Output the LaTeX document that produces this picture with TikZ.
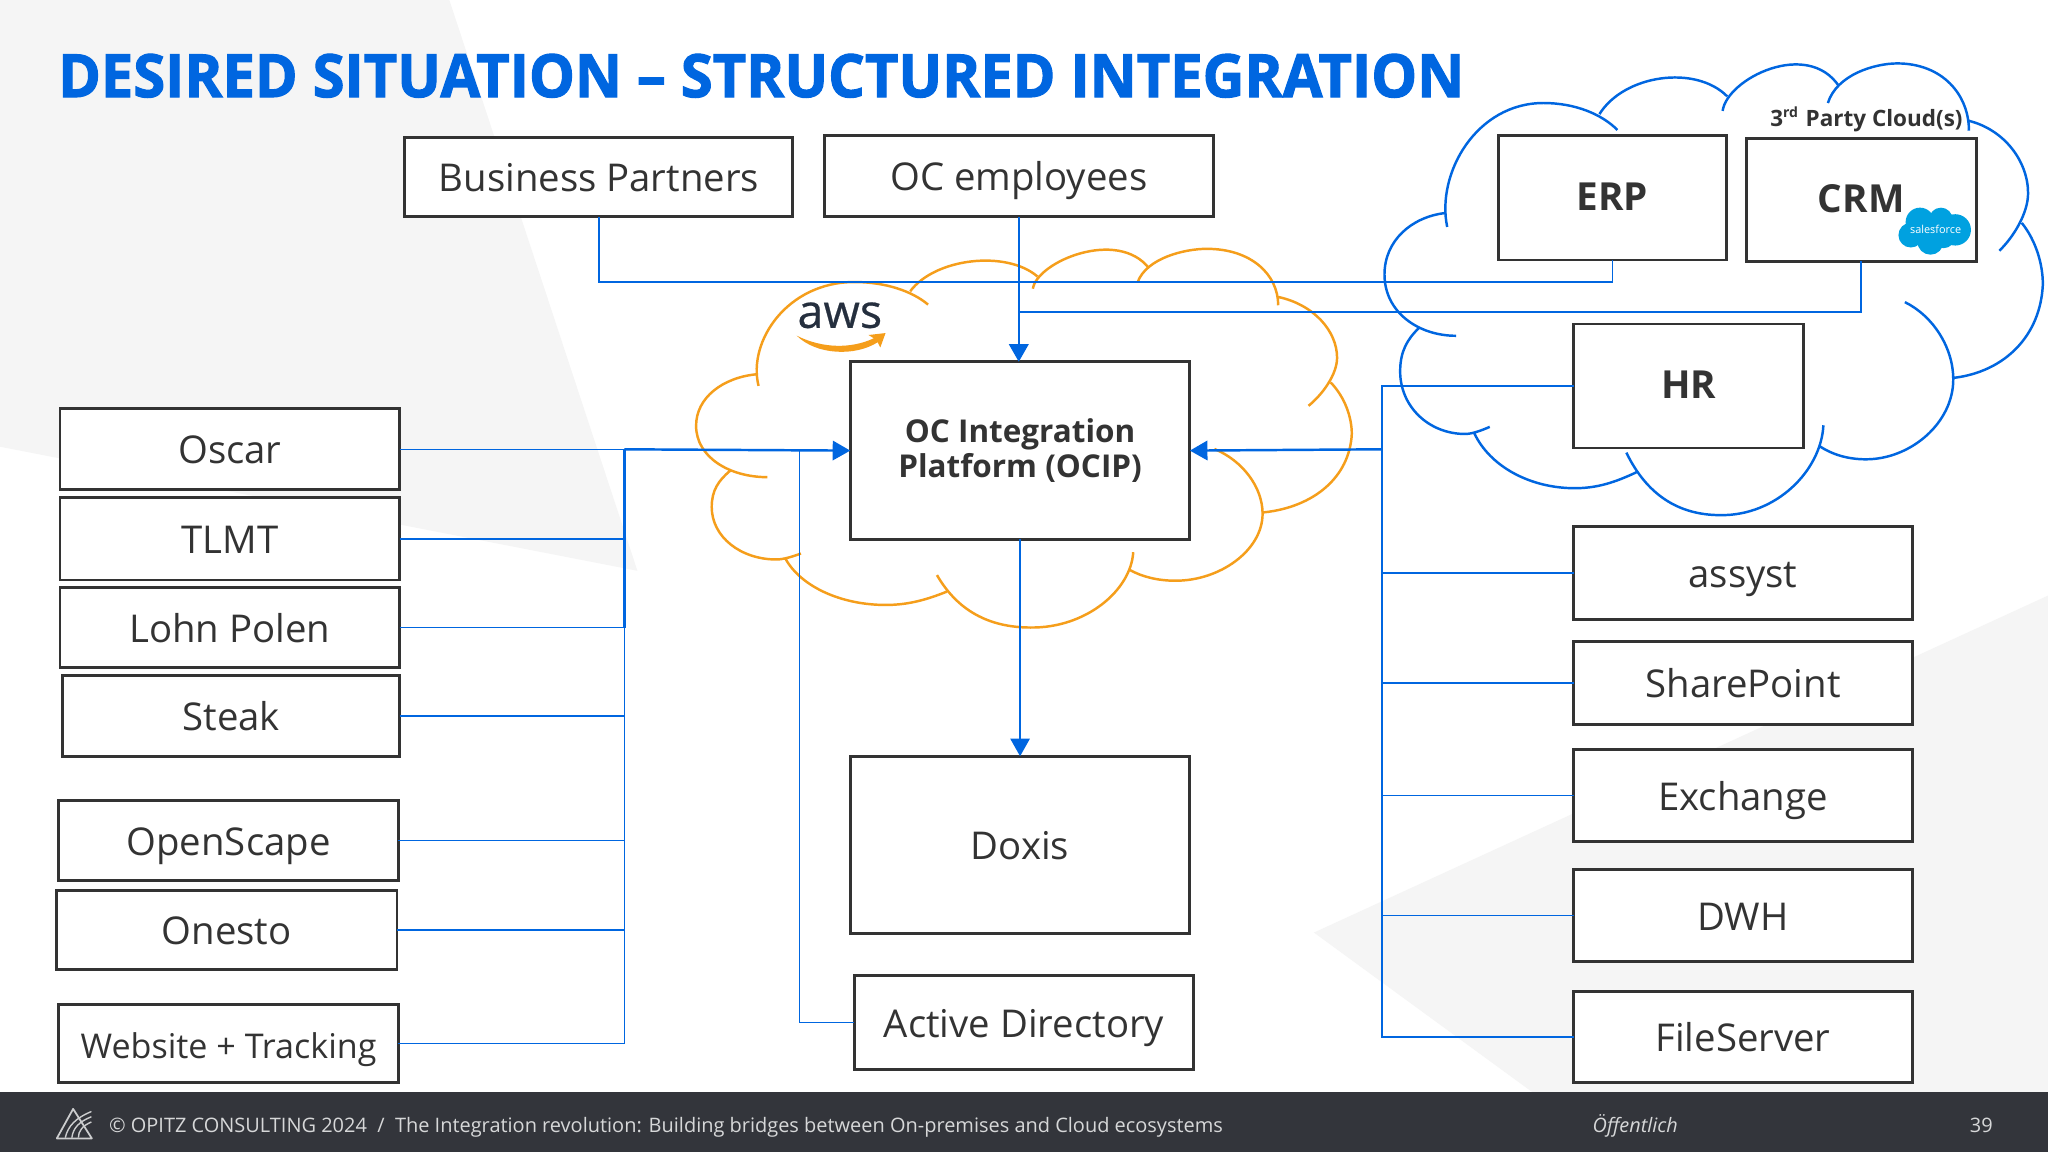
\documentclass[tikz,border=0pt]{standalone}
\usepackage{fontspec}
\setmainfont{Open Sans}
\usetikzlibrary{arrows.meta}
\definecolor{ocblue}{HTML}{0066E0}
\definecolor{ocorange}{HTML}{F59E1B}
\definecolor{ocdark}{HTML}{333333}
\definecolor{ocfoot}{HTML}{33353B}
\definecolor{ocgrey}{HTML}{F5F5F5}
\definecolor{sfblue}{HTML}{00A1E0}
\definecolor{awsdark}{HTML}{252F3E}
\tikzset{
  sysbox/.style={draw=ocdark,fill=white,line width=.8pt,inner sep=0pt,outer sep=0pt,text=ocdark,align=center,text height=8.3pt,text depth=0pt,font=\fontsize{10.9}{12}\selectfont},
  corebox/.style={sysbox,text height=7.1pt,font=\fontsize{11}{12}\selectfont\bfseries},
  link/.style={draw=ocblue,line width=.45pt},
  mainlink/.style={draw=ocblue,line width=.7pt},
  tip/.style={-{Triangle[length=5pt,width=5.5pt]}},
  footertext/.style={text=white!80!ocfoot,font=\fontsize{5.68}{6}\selectfont,inner sep=0pt},
  cloudarcs/.pic={
    \draw[line width=.7pt]
    (175,465) .. controls (150,330) and (240,152) .. (390,152) .. controls (460,152) and (520,180) .. (555,220)
    (515,180) .. controls (570,80) and (730,55) .. (800,135)
    (790,172) .. controls (800,90) and (980,-10) .. (1050,110)
    (1025,152) .. controls (1045,80) and (1130,52) .. (1180,52) .. controls (1280,52) and (1340,130) .. (1340,222)
    (1340,197) .. controls (1420,220) and (1472,300) .. (1472,380) .. controls (1472,430) and (1440,490) .. (1408,525)
    (1458,455) .. controls (1490,500) and (1505,560) .. (1505,610) .. controls (1500,740) and (1420,830) .. (1308,846)
    (1197,655) .. controls (1260,690) and (1305,770) .. (1305,850) .. controls (1305,960) and (1210,1052) .. (1110,1052) .. controls (1070,1052) and (1035,1040) .. (1008,1020)
    (1015,966) .. controls (1010,1080) and (910,1195) .. (785,1193) .. controls (690,1193) and (620,1140) .. (575,1035)
    (597,1085) .. controls (550,1110) and (510,1125) .. (460,1125) .. controls (360,1125) and (270,1070) .. (235,985)
    (270,970) .. controls (250,980) and (230,988) .. (215,988) .. controls (135,988) and (70,920) .. (70,830) .. controls (70,780) and (85,750) .. (112,720)
    (195,740) .. controls (110,740) and (35,680) .. (35,585) .. controls (35,500) and (95,440) .. (170,430);
  }
}
\newfontfamily\titlefont[FakeBold=1.8,FakeStretch=.968]{Open Sans Bold}
\newfontfamily\awsfont[FakeBold=.5]{Open Sans}
\begin{document}
\begin{tikzpicture}[x=0.01306cm,y=-0.01306cm]
\useasboundingbox (0,0) rectangle (1568,882);
\fill[white] (0,0) rectangle (1568,882);
\fill[ocgrey] (0,0) -- (344,0) -- (488,437) -- (0,342) -- cycle;
\fill[ocgrey] (1006,714) -- (1568,456) -- (1568,836) -- (1173,836) -- cycle;

\node[text=ocblue,anchor=west,inner sep=0pt,font=\fontsize{17}{20}\titlefont] (title) at (44,58) {DESIRED SITUATION – STRUCTURED INTEGRATION};

\begin{scope}[shift={(521,177.3)},xscale=.3415,yscale=.2541]
\pic[draw=ocorange,transform shape] {cloudarcs};
\end{scope}
\begin{scope}[shift={(1048,32.8)},xscale=.3429,yscale=.3031]
\pic[draw=ocblue,transform shape] {cloudarcs};
\end{scope}

\foreach \name/\l/\t/\r/\b/\label in {partners/310/105/607/166/Business Partners,
  employees/631/104/929/166/OC employees,
  oscar/46/313/306/375/Oscar, tlmt/46/381/306/444/TLMT, lohn/46/450/306/511/Lohn Polen, steak/48/517/306/579/Steak,
  openscape/45/613/305/674/OpenScape, onesto/43/682/304/742/Onesto,
  doxis/651/579/911/715/Doxis, directory/654/747/914/819/Active Directory,
  assyst/1205/403/1464/474/assyst, sharepoint/1205/491/1464/555/SharePoint, exchange/1205/574/1464/644/Exchange,
  dwh/1205/666/1464/736/DWH, fileserver/1205/759/1464/829/FileServer}
  \node[sysbox,minimum width={(\r-\l)*0.01306cm},minimum height={(\b-\t)*0.01306cm}] (\name) at ({(\l+\r)/2},{(\t+\b)/2}) {\label};
\node[sysbox,font=\fontsize{9.7}{12}\selectfont,minimum width=3.395cm,minimum height=.784cm] (website) at (175,799) {Website + Tracking};

\foreach \name/\l/\t/\r/\b/\label in {erp/1147/104/1322/199/ERP, crm/1337/106/1513/200/CRM, hr/1205/248/1381/343/HR}
  \node[corebox,minimum width={(\r-\l)*0.01306cm},minimum height={(\b-\t)*0.01306cm}] (\name) at ({(\l+\r)/2},{(\t+\b)/2}) {\label};
\node[draw=ocdark,fill=white,line width=.8pt,inner sep=0pt,outer sep=0pt,text=ocdark,align=center,font=\fontsize{8.95}{10}\selectfont\bfseries,minimum width=3.396cm,minimum height=1.776cm] (ocip) at (781,345) {OC Integration\\Platform (OCIP)};

\coordinate (leftbus) at (478,344);
\coordinate (rightbus) at (1058,344);
\coordinate (adbus) at (612,344);
\coordinate (topbus) at (780,216);
\coordinate (crmbus) at (780,239);

\foreach \name in {oscar,tlmt,lohn,steak,openscape,onesto,website} \draw[link] (\name.east) -| (leftbus);
\draw[mainlink] (leftbus) -- (tlmt.east -| leftbus) -- (lohn.east -| leftbus);
\draw[mainlink,tip] (leftbus) -- (ocip.west);
\draw[link] (directory.west) -| (adbus);

\foreach \name in {hr,assyst,sharepoint,exchange,dwh,fileserver} \draw[link] (\name.west) -| (rightbus);
\draw[mainlink,tip] (rightbus) -- (ocip.east);

\draw[link] (partners.south) |- (topbus);
\draw[link] (erp.south) |- (topbus);
\draw[link] (crm.south) |- (crmbus);
\draw[link] (employees.south) -- (topbus);
\draw[mainlink,tip] (topbus) -- (topbus |- ocip.north);
\draw[link,tip] (ocip.south) -- (doxis.north);

\node[text=ocdark,inner sep=0pt,font=\fontsize{6.4}{7}\selectfont\bfseries] (thirdparty) at (1429,91.5) {3\textsuperscript{\fontsize{4}{4}\selectfont rd} Party Cloud(s)};

% salesforce
\foreach \cx/\cy/\r in {1470/170/11,1486/168/9,1497/176/12,1463/180/9.5,1478/185/10,1488/181/9}
  \fill[sfblue] (\cx,\cy) circle[radius=\r];
\node[text=white,inner sep=0pt,font=\fontsize{3.1}{3}\selectfont] (salesforce) at (1482,176) {salesforce};

% aws
\node[text=awsdark,anchor=base,inner sep=0pt,font=\fontsize{13.3}{14}\awsfont] (aws) at (643,251) {aws};
\fill[ocorange] (610,257) .. controls (625,272) and (655,273) .. (672,262) -- (674,266) -- (678,255) -- (665,256.5) -- (669,259) .. controls (652,267) and (630,267) .. (610,257) -- cycle;

% footer
\fill[ocfoot] (0,836) rectangle (1568,882);
\draw[white!75!ocfoot,line width=.5pt,line join=round] (43.5,871.6) -- (56,849) -- (70.3,871.6) -- cycle;
\draw[white!75!ocfoot,line width=.4pt] (50,871) .. controls (52,862) and (58,856) .. (70,851) (55,871) .. controls (56,864) and (60,859) .. (70,855) (60,871) .. controls (60,866) and (63,862) .. (70,859);
\node[footertext,anchor=base west] (footerleft) at (83,867) {© OPITZ CONSULTING 2024 \ / \ The Integration revolution: Building bridges between On-premises and Cloud ecosystems};
\node[footertext,anchor=base,font=\fontsize{5.65}{6}\selectfont\itshape] (public) at (1252,867) {Öffentlich};
\node[footertext,anchor=base] (pagenum) at (1517,867) {39};
\end{tikzpicture}
\end{document}
